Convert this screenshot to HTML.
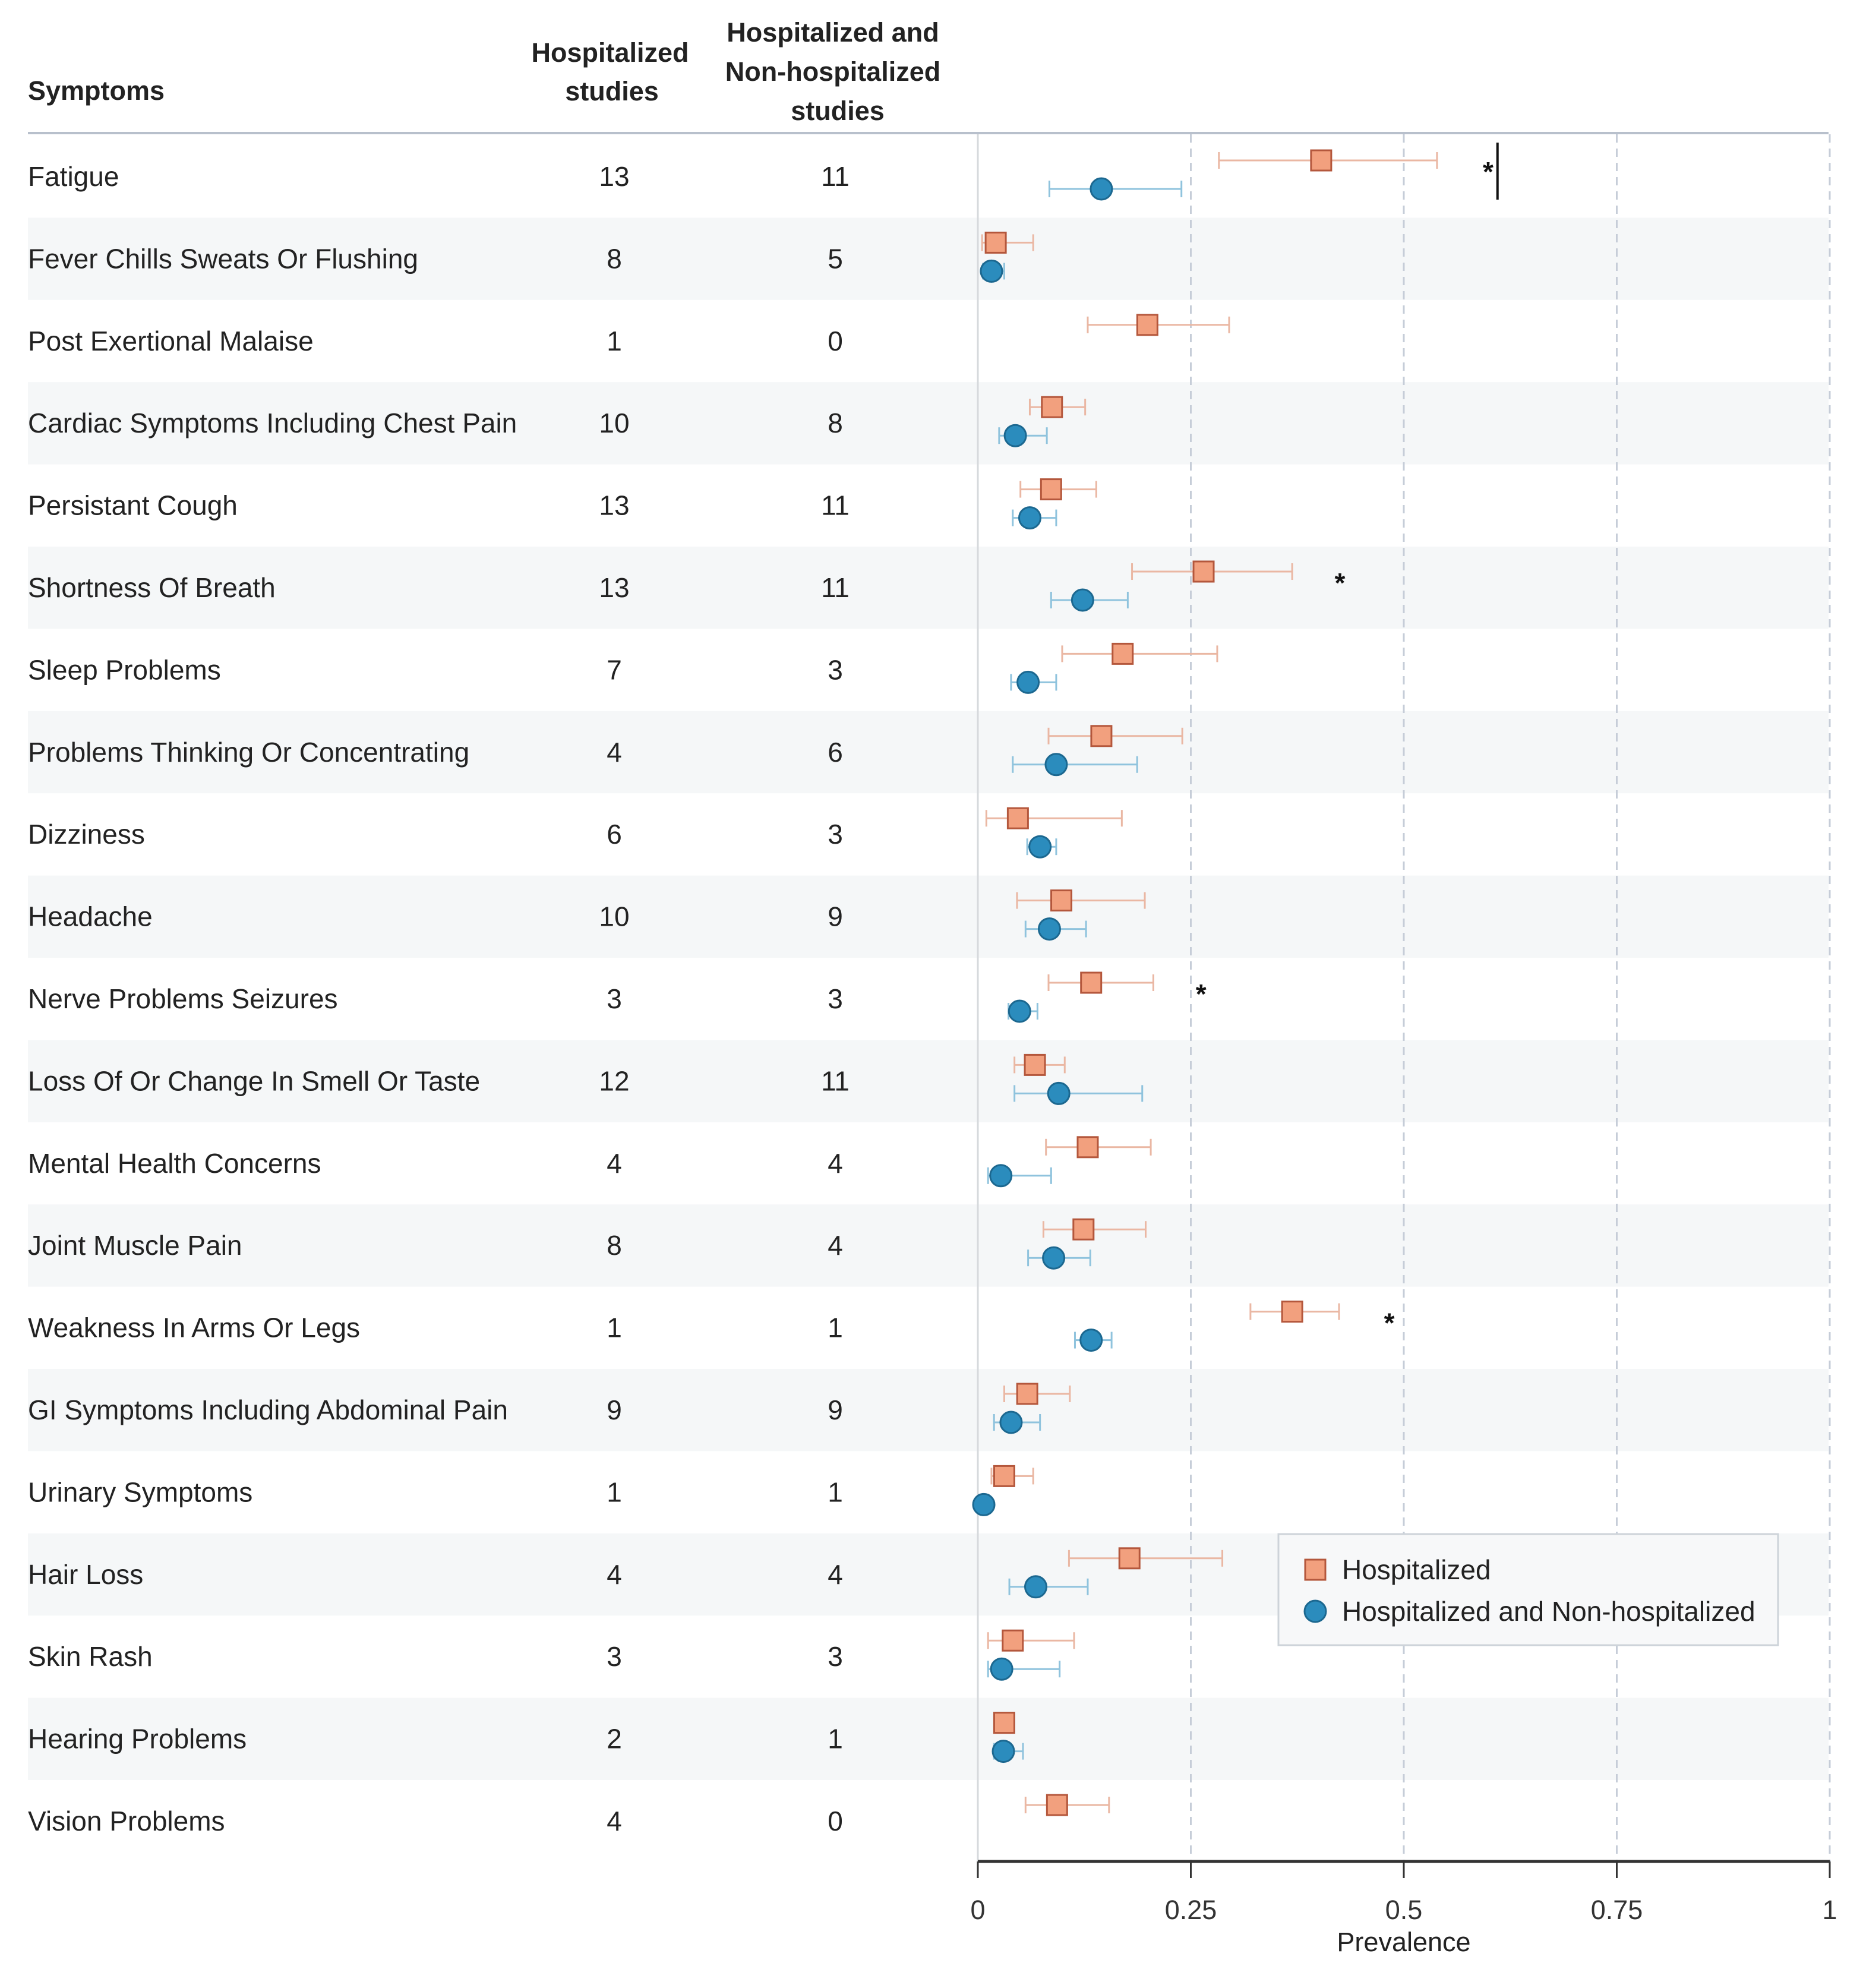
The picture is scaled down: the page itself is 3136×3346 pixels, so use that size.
<!DOCTYPE html>
<html><head><meta charset="utf-8">
<style>
html,body{margin:0;padding:0;background:#fff;}
svg{display:block;font-family:"Liberation Sans",Arial,sans-serif;}
</style></head>
<body>
<svg id="chart" width="3136" height="3346" viewBox="0 0 3136 3346" xmlns="http://www.w3.org/2000/svg">
<rect width="3136" height="3346" fill="#fff"/>
<g id="bands"></g>
<g id="grid"></g>
<text x="47" y="168" font-size="45" font-weight="bold" fill="#222">Symptoms</text>
<text x="1027" y="104" font-size="45" font-weight="bold" fill="#222" text-anchor="middle"><tspan x="1027">Hospitalized</tspan><tspan x="1030" dy="65">studies</tspan></text>
<text x="1402" y="70" font-size="45" font-weight="bold" fill="#222" text-anchor="middle"><tspan x="1402">Hospitalized and</tspan><tspan x="1402" dy="66">Non-hospitalized</tspan><tspan x="1410" dy="66">studies</tspan></text>
<line x1="47" y1="224" x2="3078" y2="224" stroke="#b8c0cc" stroke-width="4"/>
<g id="rows"></g>
<g id="marks"></g>
<g id="axis"></g>
<g id="legend">
<rect x="2152" y="2582" width="841" height="187" fill="#f7f8f9" stroke="#cdd3d9" stroke-width="3"/>
<rect x="2197" y="2625" width="34" height="34" fill="#f2a07e" stroke="#b4573c" stroke-width="3"/>
<text x="2259" y="2658" font-size="46" fill="#222">Hospitalized</text>
<circle cx="2214" cy="2712" r="18" fill="#2b8cbd" stroke="#1c6890" stroke-width="3"/>
<text x="2259" y="2728" font-size="46" fill="#222">Hospitalized and Non-hospitalized</text>
</g>
</svg>
<script>
const symptoms=["Fatigue","Fever Chills Sweats Or Flushing","Post Exertional Malaise","Cardiac Symptoms Including Chest Pain","Persistant Cough","Shortness Of Breath","Sleep Problems","Problems Thinking Or Concentrating","Dizziness","Headache","Nerve Problems Seizures","Loss Of Or Change In Smell Or Taste","Mental Health Concerns","Joint Muscle Pain","Weakness In Arms Or Legs","GI Symptoms Including Abdominal Pain","Urinary Symptoms","Hair Loss","Skin Rash","Hearing Problems","Vision Problems"];
const hospCounts=[13,8,1,10,13,13,7,4,6,10,3,12,4,8,1,9,1,4,3,2,4];
const allCounts=[11,5,0,8,11,11,3,6,3,9,3,11,4,4,1,9,1,4,3,1,0];
const hospEst=[.403,.021,.199,.087,.086,.265,.170,.145,.047,.098,.133,.067,.129,.124,.369,.058,.031,.178,.041,.031,.093];
const hospLo=[.283,.005,.129,.061,.050,.181,.099,.083,.010,.046,.083,.043,.080,.077,.320,.031,.016,.107,.012,.021,.056];
const hospHi=[.539,.065,.295,.126,.139,.369,.281,.240,.169,.196,.206,.102,.203,.197,.424,.108,.065,.287,.113,.041,.154];
const allEst=[.145,.016,null,.044,.061,.123,.059,.092,.073,.084,.049,.095,.027,.089,.133,.039,.007,.068,.028,.030,null];
const allLo=[.084,.006,null,.025,.041,.086,.039,.041,.058,.056,.036,.043,.012,.059,.114,.019,.003,.037,.012,.019,null];
const allHi=[.239,.031,null,.081,.092,.176,.092,.187,.092,.127,.070,.193,.086,.132,.157,.073,.012,.129,.096,.053,null];
const starRows=[0,5,10,14];
const starVals=[.599,.425,.262,.483];
const ticks=[0,0.25,0.5,0.75,1];
const tickLabels=["0","0.25","0.5","0.75","1"];

const NS="http://www.w3.org/2000/svg";
const X0=1646,X1=3080,ROW0=228,RH=138.4;
const xs=v=>X0+(X1-X0)*v;
const rowC=i=>ROW0+RH*i+69;
function mk(tag,attrs,parent){const e=document.createElementNS(NS,tag);for(const k in attrs)e.setAttribute(k,attrs[k]);parent.appendChild(e);return e;}
const bands=document.getElementById('bands'),grid=document.getElementById('grid'),rows=document.getElementById('rows'),marks=document.getElementById('marks'),axis=document.getElementById('axis');

symptoms.forEach((s,i)=>{
  if(i%2===1){const b=mk('rect',{x:47,y:ROW0+RH*i,width:3031,height:RH,fill:'#f5f7f8'},bands);
    
    }
  const c=rowC(i);
  const t=mk('text',{x:47,y:c+16,'font-size':46,fill:'#222'},rows);t.textContent=s;
  
  
  const h=mk('text',{x:1034,y:c+16,'font-size':46,fill:'#222','text-anchor':'middle'},rows);h.textContent=hospCounts[i];
  
  
  const a=mk('text',{x:1406,y:c+16,'font-size':46,fill:'#222','text-anchor':'middle'},rows);a.textContent=allCounts[i];
  
  
});

const plotTop=226,plotBot=3133;
mk('line',{x1:xs(0),y1:plotTop,x2:xs(0),y2:plotBot,stroke:'#d6d9dc','stroke-width':3},grid);
ticks.forEach((t,k)=>{
  if(t>0){const g=mk('line',{x1:xs(t),y1:plotTop,x2:xs(t),y2:plotBot,stroke:'#c6cdd8','stroke-width':3,'stroke-dasharray':'14 10'},grid);
    
    }
  const tk=mk('line',{x1:xs(t),y1:plotBot,x2:xs(t),y2:plotBot+28,stroke:'#333','stroke-width':3},axis);
  
  
  const tl=mk('text',{x:xs(t),y:3230,'font-size':45,fill:'#333','text-anchor':'middle'},axis);tl.textContent=tickLabels[k];
  
  
});
const ax=mk('line',{x1:xs(0),y1:plotBot,x2:xs(1),y2:plotBot,stroke:'#333','stroke-width':5},axis);


const at=mk('text',{x:xs(0.5),y:3284,'font-size':45,fill:'#222','text-anchor':'middle'},axis);at.textContent='Prevalence';



function errbar(lo,hi,y,col){
  const g=mk('g',{},marks);
  mk('line',{x1:xs(lo),y1:y,x2:xs(hi),y2:y,stroke:col,'stroke-width':3},g);
  mk('line',{x1:xs(lo),y1:y-14,x2:xs(lo),y2:y+14,stroke:col,'stroke-width':3},g);
  mk('line',{x1:xs(hi),y1:y-14,x2:xs(hi),y2:y+14,stroke:col,'stroke-width':3},g);
  return g;
}
symptoms.forEach((s,i)=>{
  const c=rowC(i);
  const yh=c-27, ya=c+21;
  const eb=errbar(hospLo[i],hospHi[i],yh,'#eab7a3');
  
  
  const sq=mk('rect',{x:xs(hospEst[i])-17,y:yh-17,width:34,height:34,fill:'#f2a07e',stroke:'#b4573c','stroke-width':3},marks);
  
  
  if(allEst[i]!==null){
    const eb2=errbar(allLo[i],allHi[i],ya,'#8fc3dd');
    
    
    const ci=mk('circle',{cx:xs(allEst[i]),cy:ya,r:18,fill:'#2b8cbd',stroke:'#1c6890','stroke-width':3},marks);
    
    
  }
});
starRows.forEach((r,k)=>{
  const st=mk('text',{x:xs(starVals[k]),y:rowC(r)+8,'font-size':46,fill:'#111','text-anchor':'middle','font-weight':'bold'},marks);st.textContent='*';
  
  
});
const vl=mk('line',{x1:xs(0.61),y1:240,x2:xs(0.61),y2:336,stroke:'#111','stroke-width':4},marks);


</script>
</body></html>
